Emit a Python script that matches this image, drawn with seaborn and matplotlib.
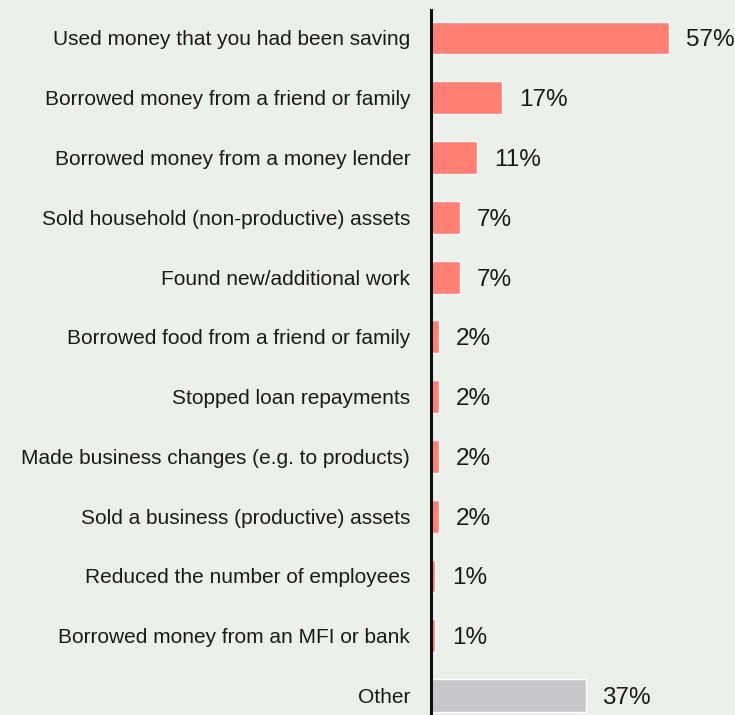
import matplotlib
matplotlib.use("Agg")
import matplotlib.pyplot as plt
import seaborn as sns
import pandas as pd

categories = [
    "Used money that you had been saving",
    "Borrowed money from a friend or family",
    "Borrowed money from a money lender",
    "Sold household (non-productive) assets",
    "Found new/additional work",
    "Borrowed food from a friend or family",
    "Stopped loan repayments",
    "Made business changes (e.g. to products)",
    "Sold a business (productive) assets",
    "Reduced the number of employees",
    "Borrowed money from an MFI or bank",
    "Other",
]
values = [57, 17, 11, 7, 7, 2, 2, 2, 2, 1, 1, 37]
groups = ["coping"] * 11 + ["other"]

BG = "#ECF0EB"
colors = {"coping": "#FF7F72", "other": "#C8C8CA"}

sns.set_theme(style="white")
plt.rcParams["font.family"] = ["Liberation Sans", "DejaVu Sans"]

df = pd.DataFrame({"category": categories, "value": values, "group": groups})

fig = plt.figure(figsize=(7.35, 7.15), dpi=100, facecolor=BG)
ax = fig.add_axes([431 / 735, 0.0, 1 - 431 / 735, 705 / 715])
ax.set_facecolor(BG)

sns.barplot(
    data=df, x="value", y="category", hue="group", palette=colors,
    order=categories, dodge=False, width=0.55, edgecolor="white",
    linewidth=1.0, saturation=1, legend=False, ax=ax,
)

for i, v in enumerate(values):
    ax.text(v + 4.0, i, f"{v}%", va="center_baseline", ha="left",
            fontsize=17.5, color="#1a1a1a")

ax.set_xlim(0, 72.7)
ax.set_ylim(11.326, -0.468)
ax.set_xlabel("")
ax.set_ylabel("")
ax.set_xticks([])
ax.tick_params(axis="y", length=0, pad=15, labelsize=15, labelcolor="#1a1a1a")
for s in ["top", "right", "bottom"]:
    ax.spines[s].set_visible(False)
ax.spines["left"].set_color("#111111")
ax.spines["left"].set_linewidth(2.2)

fig.savefig("out.png", dpi=100, facecolor=BG)
